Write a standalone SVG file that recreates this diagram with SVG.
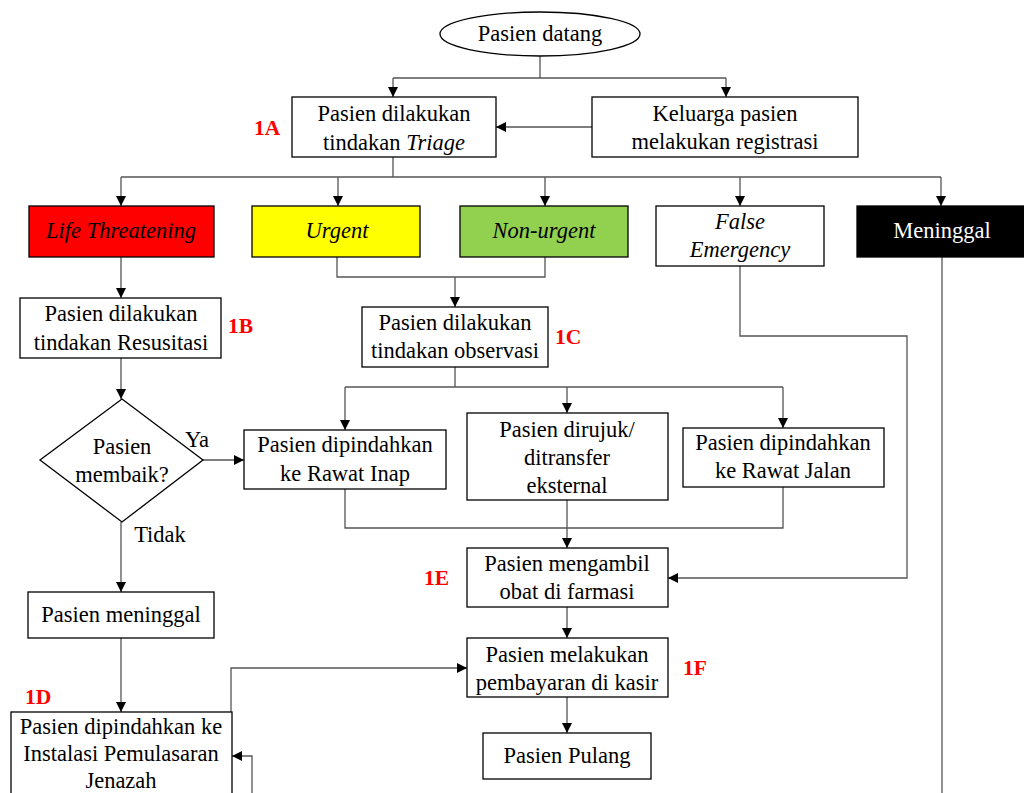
<svg xmlns="http://www.w3.org/2000/svg" width="1024" height="793" viewBox="0 0 1024 793" font-family="'Liberation Serif', 'DejaVu Serif', serif">
  <defs>
    <marker id="arr" viewBox="0 0 10 10" refX="10" refY="5" markerWidth="10" markerHeight="10" markerUnits="userSpaceOnUse" orient="auto">
      <path d="M0,0 L10,5 L0,10 z" fill="#000"/>
    </marker>
    <style>
      .box { fill: #fff; stroke: #000; stroke-width: 1.3; }
      .t { font-family: 'Liberation Serif', 'DejaVu Serif', serif; font-size: 22.5px; fill: #000; text-anchor: middle; }
      .i { font-style: italic; }
      .lbl { font-family: 'Liberation Serif', 'DejaVu Serif', serif; font-size: 21.5px; font-weight: bold; fill: #ff0000; }
      .c { fill: none; stroke: #555; stroke-width: 1.3; }
      .a { marker-end: url(#arr); }
    </style>
  </defs>
  <rect width="1024" height="793" fill="#fff"/>

  <!-- connectors -->
  <g id="connectors">
    <path class="c" d="M540,56 V78 M393,78 H726"/>
    <path class="c a" d="M393,78 V97"/>
    <path class="c a" d="M726,78 V97"/>
    <path class="c a" d="M592,127 H496"/>
    <path class="c" d="M393,157 V177 M121,177 H941"/>
    <path class="c a" d="M121,177 V206"/>
    <path class="c a" d="M338,177 V206"/>
    <path class="c a" d="M545,177 V206"/>
    <path class="c a" d="M740,177 V206"/>
    <path class="c a" d="M941,177 V206"/>
    <path class="c a" d="M121,257 V298"/>
    <path class="c a" d="M121,358 V399"/>
    <path class="c" d="M337,257 V277 H545 V257"/>
    <path class="c a" d="M455,277 V307"/>
    <path class="c" d="M455,367 V387 M345,387 H783"/>
    <path class="c a" d="M345,387 V430"/>
    <path class="c a" d="M567,387 V413"/>
    <path class="c a" d="M783,387 V428"/>
    <path class="c a" d="M203,460 H244"/>
    <path class="c a" d="M121,522 V592"/>
    <path class="c" d="M345,489 V528 H783 V487"/>
    <path class="c a" d="M567,500 V548"/>
    <path class="c a" d="M740,266 V336 H907 V578 H668"/>
    <path class="c a" d="M567,607 V638"/>
    <path class="c a" d="M567,697 V733"/>
    <path class="c a" d="M121,638 V712"/>
    <path class="c a" d="M231,712 V668 H467"/>
    <path class="c a" d="M252,793 V756 H232"/>
    <path class="c" d="M942,257 V793"/>
  </g>

  <g id="start">
    <ellipse cx="540" cy="34" rx="100" ry="22" class="box"/>
    <text class="t" x="540" y="41">Pasien datang</text>
  </g>

  <g id="triage">
    <rect class="box" x="292" y="97" width="204" height="60"/>
    <text class="t" x="394" y="121">Pasien dilakukan</text>
    <text class="t" x="394" y="150">tindakan <tspan class="i">Triage</tspan></text>
  </g>

  <g id="registrasi">
    <rect class="box" x="592" y="97" width="266" height="60"/>
    <text class="t" x="725" y="121">Keluarga pasien</text>
    <text class="t" x="725" y="149">melakukan registrasi</text>
  </g>

  <g id="life-threatening">
    <rect class="box" x="29" y="206" width="185" height="51" style="fill:#ff0000"/>
    <text class="t i" x="121" y="238">Life Threatening</text>
  </g>

  <g id="urgent">
    <rect class="box" x="252" y="206" width="168" height="51" style="fill:#ffff00"/>
    <text class="t i" x="337" y="238">Urgent</text>
  </g>

  <g id="non-urgent">
    <rect class="box" x="460" y="206" width="168" height="51" style="fill:#92d050"/>
    <text class="t i" x="544" y="238">Non-urgent</text>
  </g>

  <g id="false-emergency">
    <rect class="box" x="656" y="206" width="168" height="60"/>
    <text class="t i" x="740" y="229">False</text>
    <text class="t i" x="740" y="257">Emergency</text>
  </g>

  <g id="meninggal">
    <rect class="box" x="857" y="206" width="170" height="51" style="fill:#000"/>
    <text class="t" x="942" y="238" style="fill:#fff">Meninggal</text>
  </g>

  <g id="resusitasi">
    <rect class="box" x="20" y="298" width="201" height="60"/>
    <text class="t" x="121" y="321">Pasien dilakukan</text>
    <text class="t" x="121" y="350">tindakan Resusitasi</text>
  </g>

  <g id="observasi">
    <rect class="box" x="362" y="307" width="186" height="60"/>
    <text class="t" x="455" y="330">Pasien dilakukan</text>
    <text class="t" x="455" y="358">tindakan observasi</text>
  </g>

  <g id="membaik">
    <polygon class="box" points="122,399 203,460 122,522 40,460"/>
    <text class="t" x="122" y="454">Pasien</text>
    <text class="t" x="122" y="482">membaik?</text>
    <text class="t" x="197" y="447">Ya</text>
    <text class="t" x="160" y="542">Tidak</text>
  </g>

  <g id="rawat-inap">
    <rect class="box" x="244" y="430" width="202" height="59"/>
    <text class="t" x="345" y="452">Pasien dipindahkan</text>
    <text class="t" x="345" y="481">ke Rawat Inap</text>
  </g>

  <g id="dirujuk">
    <rect class="box" x="467" y="413" width="201" height="87"/>
    <text class="t" x="567" y="437">Pasien dirujuk/</text>
    <text class="t" x="567" y="465">ditransfer</text>
    <text class="t" x="567" y="493">eksternal</text>
  </g>

  <g id="rawat-jalan">
    <rect class="box" x="683" y="428" width="201" height="59"/>
    <text class="t" x="783" y="450">Pasien dipindahkan</text>
    <text class="t" x="783" y="478">ke Rawat Jalan</text>
  </g>

  <g id="farmasi">
    <rect class="box" x="467" y="548" width="201" height="59"/>
    <text class="t" x="567" y="571">Pasien mengambil</text>
    <text class="t" x="567" y="599">obat di farmasi</text>
  </g>

  <g id="kasir">
    <rect class="box" x="467" y="638" width="201" height="59"/>
    <text class="t" x="567" y="662">Pasien melakukan</text>
    <text class="t" x="567" y="690">pembayaran di kasir</text>
  </g>

  <g id="pulang">
    <rect class="box" x="483" y="733" width="168" height="46"/>
    <text class="t" x="567" y="763">Pasien Pulang</text>
  </g>

  <g id="pasien-meninggal">
    <rect class="box" x="28" y="592" width="186" height="46"/>
    <text class="t" x="121" y="622">Pasien meninggal</text>
  </g>

  <g id="jenazah">
    <rect class="box" x="11" y="712" width="221" height="90"/>
    <text class="t" x="121" y="734">Pasien dipindahkan ke</text>
    <text class="t" x="121" y="761">Instalasi Pemulasaran</text>
    <text class="t" x="121" y="788">Jenazah</text>
  </g>

  <g id="labels">
    <text class="lbl" x="254" y="135">1A</text>
    <text class="lbl" x="228" y="333">1B</text>
    <text class="lbl" x="555" y="344">1C</text>
    <text class="lbl" x="25" y="704">1D</text>
    <text class="lbl" x="424" y="585">1E</text>
    <text class="lbl" x="683" y="675">1F</text>
  </g>
</svg>
